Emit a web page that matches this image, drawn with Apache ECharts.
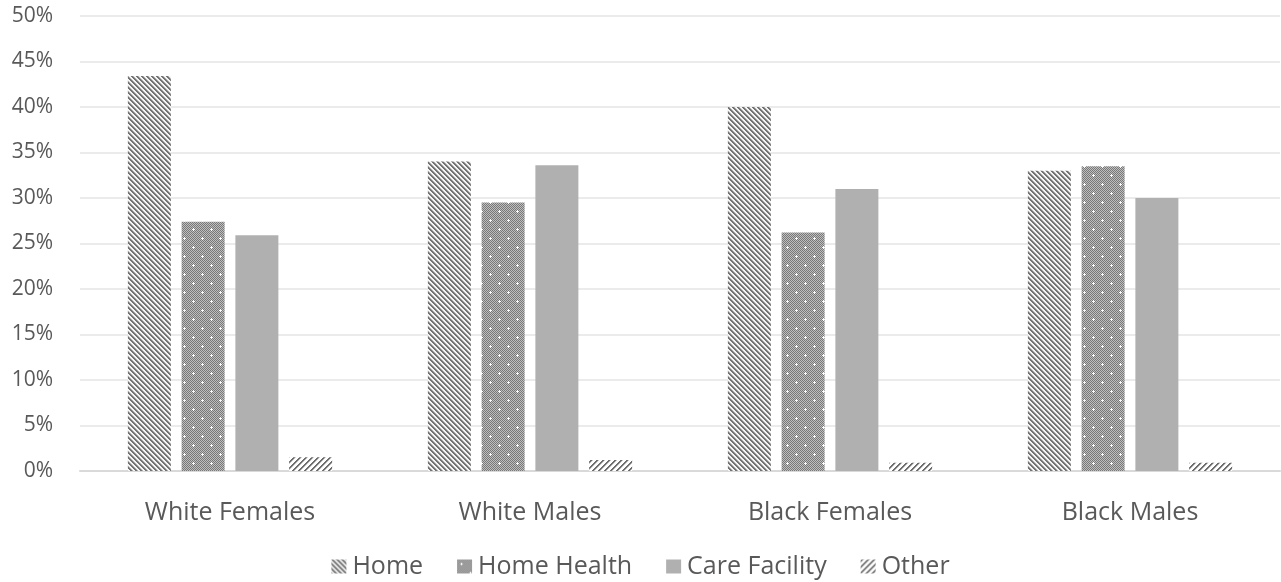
<!DOCTYPE html>
<html>
<head>
<meta charset="utf-8">
<script src="https://cdn.jsdelivr.net/npm/echarts@6/dist/echarts.min.js"></script>
<style>
  html, body { margin: 0; padding: 0; background: #fff; }
  #chart { width: 1281px; height: 582px; }
</style>
</head>
<body>
<div id="chart"></div>
<script>
// Place of death by group (percent of deaths)
const categories = ['White Females', 'White Males', 'Black Females', 'Black Males'];
const seriesNames = ['Home', 'Home Health', 'Care Facility', 'Other'];
const home = [43.4, 34.0, 40.0, 33.0];
const homeHealth = [27.4, 29.5, 26.2, 33.5];
const careFacility = [25.9, 33.6, 31.0, 30.0];
const other = [1.5, 1.2, 0.9, 0.9];
const yTicks = { min: 0, max: 50, interval: 5 };

// Pixel-level pattern tiles used as bar fills
function makeTile(size, painter) {
  const c = document.createElement('canvas');
  c.width = size; c.height = size;
  const ctx = c.getContext('2d');
  const img = ctx.createImageData(size, size);
  for (let y = 0; y < size; y++) {
    for (let x = 0; x < size; x++) {
      const v = painter(x, y);
      const i = (y * size + x) * 4;
      img.data[i] = v; img.data[i + 1] = v; img.data[i + 2] = v; img.data[i + 3] = 255;
    }
  }
  ctx.putImageData(img, 0, 0);
  return c;
}

// backslash stripes
const homeTile = makeTile(5, (x, y) => {
  const d = ((x - y) % 5 + 5) % 5;
  return d < 2 ? 115 : (d === 2 ? 175 : 245);
});

// fine checker with staggered white crosses
const plusAt = (x, y, cx, cy) =>
  (x === cx && Math.abs(y - cy) <= 1) || (y === cy && Math.abs(x - cx) <= 1);
const healthTile = makeTile(18, (x, y) => {
  if (plusAt(x, y, 4, 4) || plusAt(x, y, 13, 13)) return 250;
  return (x + y) % 2 === 0 ? 120 : 190;
});

// sparse forward-slash stripes
const otherTile = makeTile(6, (x, y) => {
  const d = (x + y) % 6;
  return d < 2 ? 110 : (d === 2 ? 200 : 255);
});

const fills = [
  { image: homeTile, repeat: 'repeat' },
  { image: healthTile, repeat: 'repeat' },
  '#b0b0b0',
  { image: otherTile, repeat: 'repeat' }
];
const values = [home, homeHealth, careFacility, other];

const textColor = '#595959';
const fontFamily = '"Open Sans", Lato, sans-serif';

const chart = echarts.init(document.getElementById('chart'), null, { renderer: 'canvas' });
chart.setOption({
  animation: false,
  backgroundColor: '#ffffff',
  grid: { left: 80, right: 1, top: 16, bottom: 111, containLabel: false },
  legend: {
    data: seriesNames,
    top: 549,
    left: 'center',
    icon: 'rect',
    itemWidth: 15,
    itemHeight: 14,
    itemGap: 34,
    textStyle: { color: textColor, fontSize: 25, fontFamily: fontFamily, padding: [0, 0, 0, 1] }
  },
  xAxis: {
    type: 'category',
    data: categories,
    axisLine: { show: true, lineStyle: { color: '#d9d9d9', width: 2 } },
    axisTick: { show: false },
    axisLabel: { color: textColor, fontSize: 25, fontFamily: fontFamily, margin: 29 }
  },
  yAxis: {
    type: 'value',
    min: yTicks.min,
    max: yTicks.max,
    interval: yTicks.interval,
    axisLine: { show: false },
    axisTick: { show: false },
    splitLine: { lineStyle: { color: '#ebebeb', width: 2 } },
    axisLabel: { color: textColor, fontSize: 21, fontFamily: fontFamily, margin: 27, formatter: '{value}%' }
  },
  series: seriesNames.map((name, i) => ({
    name: name,
    type: 'bar',
    data: values[i],
    barWidth: 43,
    barGap: '25%',
    itemStyle: { color: fills[i] }
  }))
});
</script>
</body>
</html>
